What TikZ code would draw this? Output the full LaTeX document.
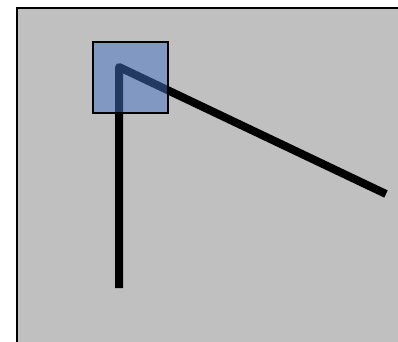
\documentclass[tikz,border=0pt]{standalone}
\usepackage{xcolor}
\usepackage{tikz}
\definecolor{figgray}{HTML}{C0C0C0}
\definecolor{figblue}{HTML}{4472C4}
\tikzset{
  thickline/.style={line width=8pt,black,line join=round},
  bluebox/.style={fill=figblue,fill opacity=0.5,draw=black,line width=1.2pt,minimum width=75pt,minimum height=71pt,inner sep=0pt}
}

\begin{document}
\begin{tikzpicture}[x=1pt,y=-1pt]
    \useasboundingbox (0,0) rectangle (398,341);
    \fill[figgray,draw=black,line width=1.5pt] (17,8) rectangle (404,350);
    \coordinate (bottom) at (119,288);
    \coordinate (corner) at (119,67);
    \coordinate (tip) at (386,194);
    \draw[thickline] (bottom) -- (corner) -- (tip);
    \node[bluebox] (box) at (130.5,77.5) {};
  \end{tikzpicture}
\end{document}
